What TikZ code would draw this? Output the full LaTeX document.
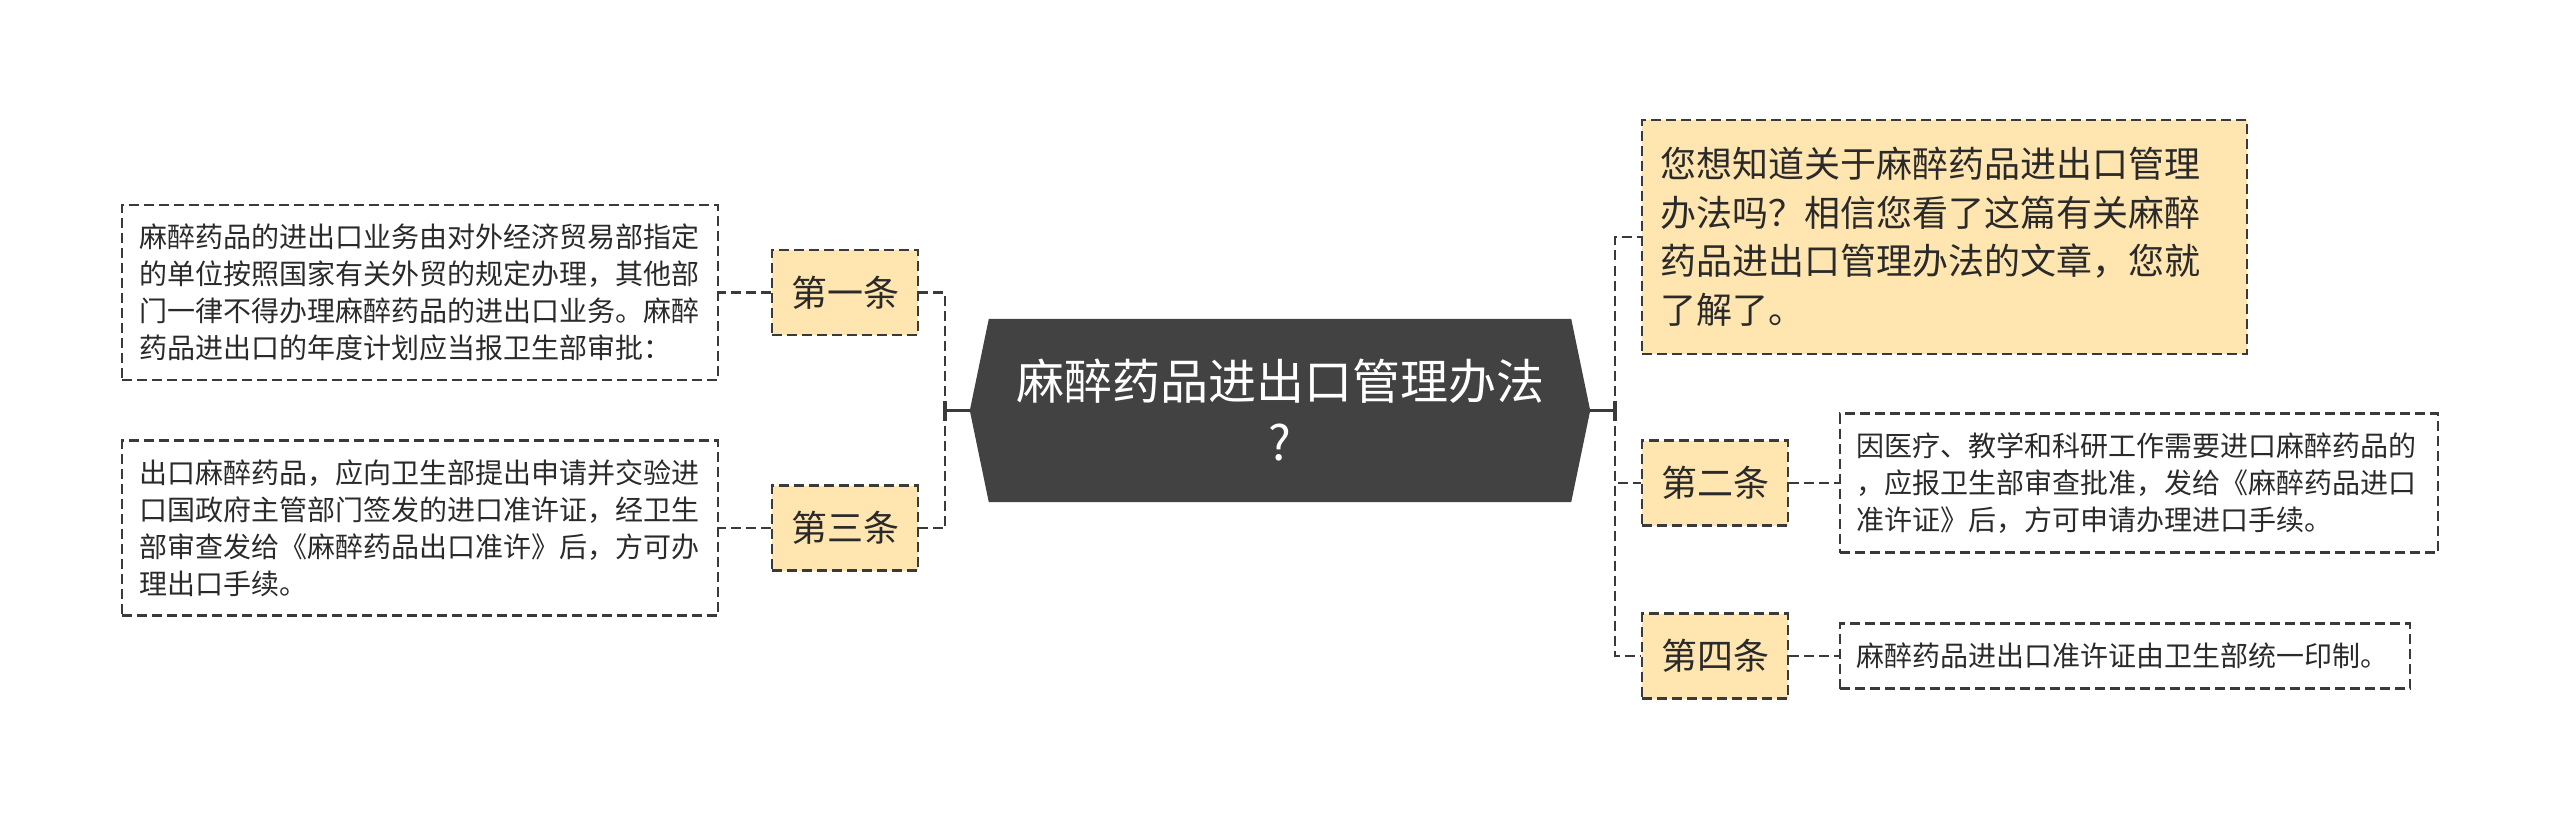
\documentclass[tikz,border=0pt]{standalone}
\usepackage{fontspec}
\setmainfont{Noto Sans CJK SC}
\usetikzlibrary{calc,backgrounds}
\definecolor{dk}{HTML}{424242}
\definecolor{lbl}{HTML}{FFE5B0}
\definecolor{ln}{HTML}{3A3A3A}
\definecolor{tx}{HTML}{2A2A2A}
\tikzset{
  box/.style={draw=ln, line width=2.8pt, dash pattern=on 10pt off 5pt, inner sep=0pt, text=tx},
  lblbox/.style={box, fill=lbl, font=\fontsize{36}{44}\selectfont, minimum width=146pt, minimum height=85pt},
  txtbox/.style={box, align=left, font=\fontsize{28}{37}\selectfont},
  conn/.style={draw=ln, line width=2.8pt, dash pattern=on 10pt off 5pt},
  trunk/.style={draw=ln, line width=3.5pt},
}
\begin{document}
\begin{tikzpicture}[x=1pt,y=-1pt]
\useasboundingbox (0,0) rectangle (2560,821);
% central node
\node[minimum width=620pt, minimum height=183pt, inner sep=0pt, text=white, align=center,
      font=\fontsize{48}{61}\selectfont] (c) at (1280,410.5) {麻醉药品进出口管理办法\\?};
\begin{scope}[on background layer]
\fill[dk] (c.west) -- ($(c.north west)+(19,0)$) -- ($(c.north east)+(-19,0)$) -- (c.east)
  -- ($(c.south east)+(-19,0)$) -- ($(c.south west)+(19,0)$) -- cycle;
\end{scope}
% left side
\node[lblbox] (n1) at (845,292.5) {第一条};
\node[lblbox] (n3) at (845,528) {第三条};
\node[txtbox, minimum width=596pt, minimum height=175pt, text width=562pt] (b1) at (420,292.5)
  {麻醉药品的进出口业务由对外经济贸易部指定\\的单位按照国家有关外贸的规定办理，其他部\\门一律不得办理麻醉药品的进出口业务。麻醉\\药品进出口的年度计划应当报卫生部审批：};
\node[txtbox, minimum width=596pt, minimum height=175pt, text width=562pt] (b3) at (420,528)
  {出口麻醉药品，应向卫生部提出申请并交验进\\口国政府主管部门签发的进口准许证，经卫生\\部审查发给《麻醉药品出口准许》后，方可办\\理出口手续。};
% right side
\node[box, fill=lbl, align=left, font=\fontsize{36}{48.5}\selectfont, minimum width=605pt,
      minimum height=234pt, text width=569pt] (q) at (1944.5,237)
  {您想知道关于麻醉药品进出口管理\\办法吗？相信您看了这篇有关麻醉\\药品进出口管理办法的文章，您就\\了解了。};
\node[lblbox] (n2) at (1715,483) {第二条};
\node[lblbox] (n4) at (1715,656) {第四条};
\node[txtbox, minimum width=598pt, minimum height=139pt, text width=566pt] (b2) at (2139,483)
  {因医疗、教学和科研工作需要进口麻醉药品的\\，应报卫生部审查批准，发给《麻醉药品进口\\准许证》后，方可申请办理进口手续。};
\node[txtbox, minimum width=570pt, minimum height=65pt, text width=538pt] (b4) at (2125,656)
  {麻醉药品进出口准许证由卫生部统一印制。};
% connectors
\coordinate (lj) at (945,410.5);
\coordinate (rj) at (1615,410.5);
\draw[trunk] (c.west) -- (lj);
\draw[trunk] ($(lj)+(0,-10)$) -- ($(lj)+(0,10)$);
\draw[trunk] (c.east) -- (rj);
\draw[trunk] ($(rj)+(0,-10)$) -- ($(rj)+(0,10)$);
\draw[conn] (lj) |- (n1.east);
\draw[conn] (lj) |- (n3.east);
\draw[conn] (n1.west) -- (b1.east);
\draw[conn] (n3.west) -- (b3.east);
\draw[conn] (rj) |- (q.west);
\draw[conn] (rj) |- (n2.west);
\draw[conn] (rj) |- (n4.west);
\draw[conn] (n2.east) -- (b2.west);
\draw[conn] (n4.east) -- (b4.west);
\end{tikzpicture}
\end{document}
